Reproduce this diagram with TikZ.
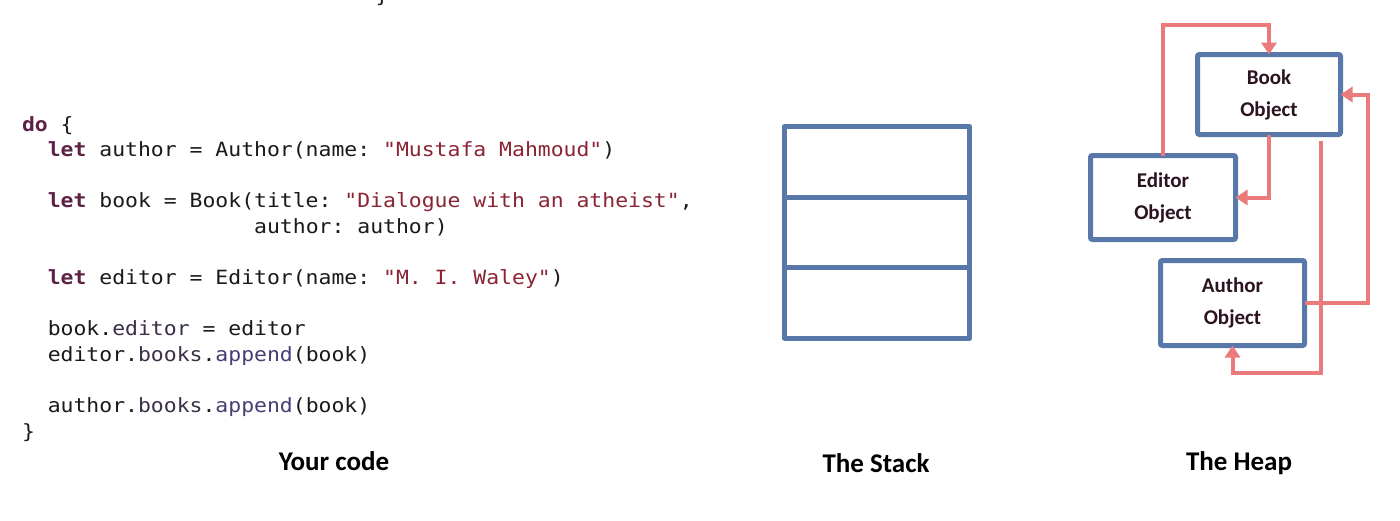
\documentclass[tikz,border=0pt]{standalone}
\usepackage{fontspec}
\usetikzlibrary{arrows.meta,calc}
\newfontfamily\codefont[FakeStretch=1.093]{DejaVu Sans Mono}
\newfontfamily\titlefont{Carlito}
\definecolor{codecol}{HTML}{1A1A1A}
\definecolor{kwcol}{HTML}{5C2246}
\definecolor{strcol}{HTML}{8A2434}
\definecolor{propcol}{HTML}{3B2E48}
\definecolor{methcol}{HTML}{4A3D75}
\definecolor{objtext}{HTML}{2B1320}
\definecolor{boxblue}{HTML}{5778A9}
\definecolor{refred}{HTML}{EB7A7C}
\newcommand\kwd[1]{{\bfseries\color{kwcol}#1}}
\newcommand\cstr[1]{{\color{strcol}#1}}
\newcommand\cprop[1]{{\color{propcol}#1}}
\newcommand\cmeth[1]{{\color{methcol}#1}}
\tikzset{
  codeline/.style={anchor=base west, inner sep=0pt, outer sep=0pt,
    font=\codefont\fontsize{19.6}{25}\selectfont\frenchspacing, text=codecol},
  caption/.style={anchor=base, inner sep=0pt,
    font=\titlefont\bfseries\fontsize{27}{30}\selectfont, text=black},
  obj/.style={draw=boxblue, line width=5pt, rounded corners=2pt, fill=white,
    align=center, inner sep=0pt, outer sep=0pt, text=objtext,
    font=\titlefont\bfseries\fontsize{21}{32}\selectfont},
  cell/.style={draw=boxblue, line width=5pt, minimum width=185pt,
    minimum height=70.5pt, inner sep=0pt, outer sep=0pt, line join=round},
  ref/.style={draw=refred, line width=4pt, -{Triangle[width=15pt,length=12pt]}}
}
\begin{document}
\begin{tikzpicture}[x=1pt,y=-1pt]
\fill[white] (0,0) rectangle (1400,520);
\useasboundingbox (0,0) rectangle (1400,520);
\clip (0,0) rectangle (1400,520);
% stray clipped glyph at the top
\node[codeline, anchor=base] (stray) at (382,2) {\}};
% code
\node[codeline] (c0) at (22,131) {\kwd{do} \{};
\node[codeline] (c1) at (47.8,156.6) {\kwd{let} author = Author(name: \cstr{"Mustafa Mahmoud"})};
\node[codeline] (c3) at (47.8,207.8) {\kwd{let} book = Book(title: \cstr{"Dialogue with an atheist"},};
\node[codeline] (c4) at (254.2,233.4) {author: author)};
\node[codeline] (c6) at (47.8,284.6) {\kwd{let} editor = Editor(name: \cstr{"M. I. Waley"})};
\node[codeline] (c8) at (47.8,335.8) {book.\cprop{editor} = editor};
\node[codeline] (c9) at (47.8,361.4) {editor.\cprop{books}.\cmeth{append}(book)};
\node[codeline] (c11) at (47.8,412.6) {author.\cprop{books}.\cmeth{append}(book)};
\node[codeline] (c12) at (22,438.2) {\}};
% captions
\node[caption] (t1) at (334,470) {Your code};
\node[caption] (t2) at (876,472) {The Stack};
\node[caption] (t3) at (1239,470) {The Heap};
% stack
\node[cell] (s1) at (877,161.75) {};
\node[cell] (s2) at (877,232.25) {};
\node[cell] (s3) at (877,302.75) {};
% heap objects
\node[obj, minimum width=143pt, minimum height=80pt] (book) at (1269,94.5) {Book\\Object};
\node[obj, minimum width=145pt, minimum height=84pt] (editor) at (1163,197.5) {Editor\\Object};
\node[obj, minimum width=144pt, minimum height=85pt] (author) at (1232.5,303) {Author\\Object};
% references
\draw[ref] (editor.north) -- ++(0,-131) -| (book.north);
\draw[ref] (book.south) |- (editor.east);
\draw[ref] ($(book.south east)+(-20,6)$) -- ++(0,232) -| (author.south);
\draw[ref] (author.east) -- ++(63,0) |- (book.east);
\end{tikzpicture}
\end{document}
